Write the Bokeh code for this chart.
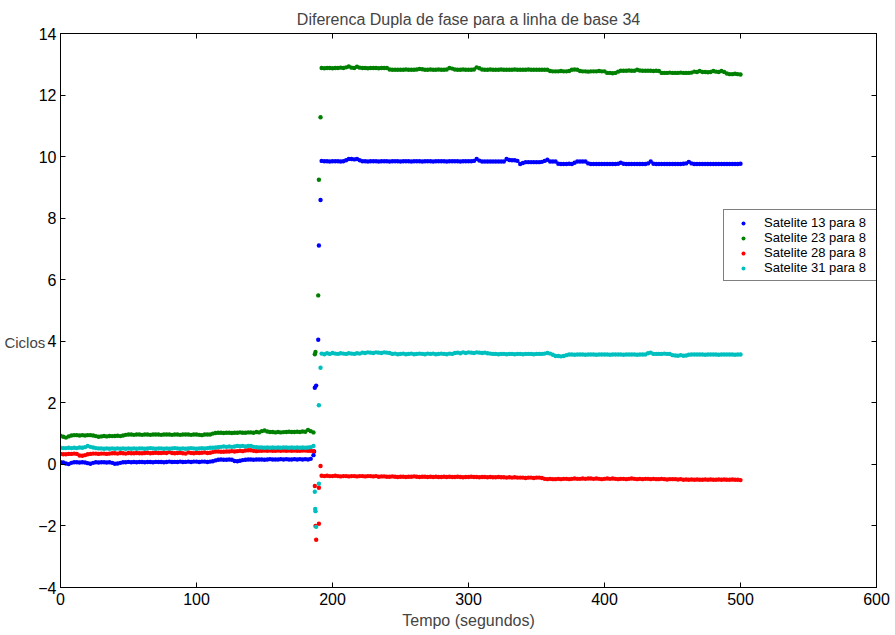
from bokeh.plotting import figure
from bokeh.models import (Range1d, LinearAxis, FixedTicker, Legend, LegendItem,
                          ColumnDataSource)
from bokeh.embed import file_html
from bokeh.resources import INLINE

# ---------------- data ----------------
TITLE = "Diferenca Dupla de fase para a linha de base 34"
X_LABEL = "Tempo (segundos)"
Y_LABEL = "Ciclos"
X_TICKS = [0, 100, 200, 300, 400, 500, 600]
Y_TICKS = [-4, -2, 0, 2, 4, 6, 8, 10, 12, 14]
SERIES_NAMES = ["Satelite 13 para 8", "Satelite 23 para 8",
                "Satelite 28 para 8", "Satelite 31 para 8"]

PRE_T = list(range(0, 187, 2))     # sample times before the jump (s)
POST_T = list(range(192, 501, 2))  # sample times after the jump (s)

BLUE_PRE = [0.07, 0.06, 0.03, 0.01, 0.05, 0.07, 0.07, 0.06, 0.07, 0.06,
            0.04, 0.02, 0.05, 0.07, 0.06, 0.07, 0.07, 0.06, 0.07, 0.05,
            0.02, 0.03, 0.05, 0.07, 0.07, 0.08, 0.07, 0.08, 0.07, 0.08,
            0.08, 0.07, 0.08, 0.08, 0.07, 0.08, 0.08, 0.08, 0.07, 0.08,
            0.09, 0.08, 0.08, 0.08, 0.09, 0.08, 0.08, 0.09, 0.08, 0.09,
            0.09, 0.08, 0.09, 0.09, 0.08, 0.09, 0.10, 0.13, 0.15, 0.16,
            0.15, 0.15, 0.16, 0.15, 0.11, 0.10, 0.12, 0.14, 0.15, 0.16,
            0.16, 0.15, 0.16, 0.16, 0.16, 0.15, 0.16, 0.17, 0.16, 0.16,
            0.16, 0.17, 0.16, 0.17, 0.16, 0.16, 0.17, 0.16, 0.17, 0.16,
            0.17, 0.16, 0.18, 0.30]
GREEN_PRE = [0.93, 0.90, 0.87, 0.91, 0.94, 0.95, 0.95, 0.94, 0.95, 0.94,
             0.95, 0.95, 0.94, 0.92, 0.90, 0.91, 0.92, 0.91, 0.92, 0.92,
             0.92, 0.93, 0.92, 0.94, 0.96, 0.97, 0.97, 0.96, 0.97, 0.97,
             0.96, 0.97, 0.97, 0.96, 0.97, 0.97, 0.97, 0.96, 0.97, 0.97,
             0.97, 0.96, 0.97, 0.97, 0.96, 0.97, 0.97, 0.97, 0.96, 0.97,
             0.97, 0.96, 0.95, 0.97, 0.97, 0.97, 1.00, 1.02, 1.03, 1.03,
             1.02, 1.03, 1.03, 1.02, 1.03, 1.03, 1.04, 1.03, 1.03, 1.04,
             1.04, 1.03, 1.05, 1.04, 1.08, 1.10, 1.07, 1.05, 1.05, 1.04,
             1.05, 1.04, 1.05, 1.05, 1.06, 1.05, 1.05, 1.06, 1.05, 1.07,
             1.06, 1.12, 1.08, 1.04]
RED_PRE = [0.34, 0.33, 0.33, 0.34, 0.34, 0.35, 0.34, 0.29, 0.28, 0.30,
           0.33, 0.34, 0.35, 0.35, 0.34, 0.35, 0.35, 0.34, 0.35, 0.36,
           0.36, 0.35, 0.37, 0.36, 0.35, 0.37, 0.36, 0.36, 0.37, 0.36,
           0.36, 0.37, 0.38, 0.36, 0.37, 0.38, 0.37, 0.37, 0.38, 0.37,
           0.40, 0.37, 0.36, 0.37, 0.38, 0.36, 0.35, 0.39, 0.37, 0.36,
           0.38, 0.37, 0.38, 0.39, 0.37, 0.38, 0.40, 0.42, 0.42, 0.41,
           0.41, 0.42, 0.42, 0.43, 0.42, 0.43, 0.44, 0.43, 0.45, 0.46,
           0.46, 0.44, 0.43, 0.44, 0.44, 0.45, 0.44, 0.45, 0.44, 0.44,
           0.45, 0.44, 0.45, 0.44, 0.45, 0.44, 0.45, 0.44, 0.44, 0.45,
           0.45, 0.44, 0.44, 0.43]
CYAN_PRE = [0.54, 0.53, 0.53, 0.54, 0.53, 0.54, 0.53, 0.55, 0.54, 0.56,
            0.60, 0.57, 0.55, 0.53, 0.52, 0.52, 0.51, 0.52, 0.51, 0.52,
            0.51, 0.52, 0.51, 0.52, 0.51, 0.52, 0.51, 0.52, 0.51, 0.52,
            0.52, 0.51, 0.52, 0.53, 0.52, 0.51, 0.52, 0.52, 0.51, 0.52,
            0.51, 0.52, 0.53, 0.52, 0.51, 0.52, 0.51, 0.52, 0.53, 0.52,
            0.51, 0.52, 0.53, 0.52, 0.53, 0.54, 0.54, 0.55, 0.56, 0.57,
            0.58, 0.57, 0.58, 0.57, 0.58, 0.60, 0.59, 0.60, 0.58, 0.60,
            0.60, 0.57, 0.56, 0.55, 0.55, 0.54, 0.55, 0.54, 0.55, 0.54,
            0.55, 0.54, 0.55, 0.55, 0.54, 0.55, 0.54, 0.55, 0.54, 0.55,
            0.54, 0.55, 0.56, 0.60]

BLUE_JUMP_T = [186.5, 187, 188, 189.5, 190, 191.2]
BLUE_JUMP = [0.42, 2.49, 2.56, 4.05, 7.11, 8.59]
GREEN_JUMP_T = [187, 187.5, 189.5, 190, 191.2]
GREEN_JUMP = [3.58, 3.65, 5.49, 9.25, 11.28]
RED_JUMP_T = [187, 187.5, 188, 190, 190, 191.2]
RED_JUMP = [-0.70, -2.00, -2.45, -0.76, -1.93, -0.05]
CYAN_JUMP_T = [187, 187.3, 187.5, 188, 190, 190, 191.2]
CYAN_JUMP = [-0.89, -1.45, -1.52, -2.03, -0.63, 1.92, 3.14]

BLUE_POST = [9.86, 9.85, 9.85, 9.84, 9.85, 9.85, 9.85, 9.84, 9.85, 9.88,
             9.92, 9.92, 9.91, 9.92, 9.88, 9.85, 9.85, 9.84, 9.85, 9.85,
             9.85, 9.84, 9.85, 9.85, 9.85, 9.84, 9.85, 9.85, 9.85, 9.84,
             9.85, 9.85, 9.85, 9.84, 9.85, 9.85, 9.85, 9.84, 9.85, 9.85,
             9.85, 9.84, 9.85, 9.85, 9.85, 9.85, 9.84, 9.85, 9.85, 9.85,
             9.85, 9.84, 9.85, 9.85, 9.85, 9.85, 9.86, 9.92, 9.87, 9.84,
             9.84, 9.84, 9.84, 9.84, 9.84, 9.84, 9.84, 9.84, 9.92, 9.89,
             9.88, 9.88, 9.86, 9.76, 9.79, 9.82, 9.82, 9.82, 9.82, 9.82,
             9.82, 9.83, 9.86, 9.90, 9.84, 9.84, 9.84, 9.77, 9.76, 9.76,
             9.76, 9.77, 9.76, 9.80, 9.84, 9.84, 9.84, 9.84, 9.78, 9.76,
             9.76, 9.76, 9.76, 9.76, 9.76, 9.76, 9.76, 9.76, 9.76, 9.77,
             9.80, 9.77, 9.76, 9.76, 9.76, 9.76, 9.76, 9.76, 9.76, 9.76,
             9.78, 9.84, 9.77, 9.76, 9.76, 9.76, 9.76, 9.76, 9.76, 9.76,
             9.76, 9.76, 9.76, 9.77, 9.78, 9.83, 9.78, 9.76, 9.76, 9.76,
             9.76, 9.76, 9.76, 9.76, 9.76, 9.76, 9.76, 9.76, 9.76, 9.76,
             9.76, 9.76, 9.76, 9.76, 9.77]
GREEN_POST = [12.88, 12.87, 12.88, 12.88, 12.87, 12.88, 12.88, 12.89, 12.88, 12.90,
              12.93, 12.89, 12.88, 12.92, 12.89, 12.88, 12.88, 12.87, 12.88, 12.88,
              12.88, 12.87, 12.88, 12.88, 12.88, 12.83, 12.82, 12.82, 12.82, 12.82,
              12.82, 12.83, 12.82, 12.82, 12.82, 12.83, 12.85, 12.84, 12.82, 12.82,
              12.83, 12.82, 12.82, 12.83, 12.82, 12.82, 12.83, 12.88, 12.86, 12.83,
              12.82, 12.82, 12.83, 12.82, 12.82, 12.82, 12.83, 12.90, 12.87, 12.83,
              12.82, 12.82, 12.83, 12.82, 12.82, 12.82, 12.83, 12.82, 12.82, 12.82,
              12.82, 12.83, 12.82, 12.82, 12.82, 12.82, 12.83, 12.82, 12.82, 12.82,
              12.82, 12.82, 12.82, 12.82, 12.78, 12.77, 12.77, 12.77, 12.78, 12.77,
              12.77, 12.78, 12.82, 12.83, 12.82, 12.78, 12.77, 12.77, 12.76, 12.77,
              12.77, 12.77, 12.78, 12.77, 12.77, 12.72, 12.72, 12.71, 12.72, 12.76,
              12.79, 12.79, 12.79, 12.80, 12.79, 12.79, 12.82, 12.80, 12.79, 12.79,
              12.79, 12.79, 12.78, 12.79, 12.78, 12.72, 12.72, 12.72, 12.73, 12.72,
              12.72, 12.72, 12.73, 12.72, 12.72, 12.72, 12.73, 12.76, 12.75, 12.78,
              12.75, 12.75, 12.74, 12.75, 12.78, 12.76, 12.75, 12.78, 12.75, 12.70,
              12.68, 12.68, 12.69, 12.68, 12.67]
RED_POST = [-0.37, -0.38, -0.37, -0.38, -0.38, -0.37, -0.38, -0.39, -0.38, -0.38,
            -0.39, -0.38, -0.38, -0.39, -0.38, -0.38, -0.39, -0.38, -0.38, -0.39,
            -0.38, -0.40, -0.39, -0.39, -0.40, -0.40, -0.39, -0.40, -0.41, -0.40,
            -0.40, -0.41, -0.40, -0.40, -0.39, -0.40, -0.41, -0.40, -0.40, -0.41,
            -0.40, -0.41, -0.40, -0.41, -0.41, -0.40, -0.41, -0.40, -0.41, -0.41,
            -0.40, -0.41, -0.42, -0.41, -0.41, -0.40, -0.41, -0.41, -0.42, -0.41,
            -0.41, -0.42, -0.41, -0.42, -0.42, -0.41, -0.42, -0.42, -0.43, -0.42,
            -0.43, -0.42, -0.43, -0.43, -0.43, -0.44, -0.43, -0.43, -0.44, -0.43,
            -0.43, -0.44, -0.47, -0.48, -0.47, -0.48, -0.48, -0.47, -0.48, -0.47,
            -0.47, -0.48, -0.47, -0.46, -0.47, -0.47, -0.46, -0.47, -0.46, -0.46,
            -0.47, -0.46, -0.47, -0.48, -0.47, -0.46, -0.47, -0.46, -0.47, -0.48,
            -0.47, -0.47, -0.48, -0.47, -0.46, -0.47, -0.48, -0.47, -0.48, -0.47,
            -0.47, -0.48, -0.47, -0.48, -0.48, -0.47, -0.48, -0.49, -0.48, -0.48,
            -0.48, -0.49, -0.48, -0.50, -0.49, -0.50, -0.49, -0.50, -0.49, -0.50,
            -0.50, -0.49, -0.50, -0.49, -0.50, -0.50, -0.49, -0.50, -0.49, -0.50,
            -0.50, -0.49, -0.50, -0.50, -0.51]
CYAN_POST = [3.60, 3.58, 3.61, 3.59, 3.62, 3.60, 3.59, 3.61, 3.60, 3.59,
             3.61, 3.60, 3.59, 3.61, 3.60, 3.63, 3.62, 3.64, 3.63, 3.62,
             3.64, 3.63, 3.62, 3.64, 3.63, 3.62, 3.59, 3.60, 3.58, 3.59,
             3.60, 3.58, 3.59, 3.60, 3.58, 3.59, 3.60, 3.59, 3.58, 3.60,
             3.59, 3.60, 3.58, 3.59, 3.60, 3.59, 3.58, 3.60, 3.59, 3.62,
             3.63, 3.61, 3.64, 3.62, 3.64, 3.63, 3.62, 3.64, 3.63, 3.62,
             3.63, 3.61, 3.60, 3.59, 3.59, 3.58, 3.59, 3.59, 3.58, 3.59,
             3.59, 3.58, 3.59, 3.59, 3.58, 3.59, 3.59, 3.59, 3.58, 3.59,
             3.59, 3.59, 3.60, 3.62, 3.60, 3.56, 3.52, 3.52, 3.51, 3.52,
             3.55, 3.57, 3.57, 3.56, 3.57, 3.57, 3.57, 3.56, 3.57, 3.57,
             3.57, 3.56, 3.57, 3.57, 3.57, 3.57, 3.56, 3.57, 3.57, 3.57,
             3.57, 3.56, 3.57, 3.57, 3.57, 3.57, 3.56, 3.57, 3.57, 3.57,
             3.61, 3.63, 3.59, 3.59, 3.59, 3.59, 3.60, 3.59, 3.59, 3.55,
             3.54, 3.53, 3.55, 3.53, 3.54, 3.56, 3.57, 3.57, 3.57, 3.57,
             3.57, 3.56, 3.57, 3.57, 3.57, 3.57, 3.56, 3.57, 3.57, 3.57,
             3.57, 3.57, 3.56, 3.57, 3.57]

COLORS = ["#0000ff", "#008000", "#ff0000", "#00bfbf"]

# ---------------- figure ----------------
FONT = "Liberation Sans"
p = figure(width=890, height=633, output_backend="svg", toolbar_location=None,
           x_range=Range1d(0, 600), y_range=Range1d(-4, 14),
           min_border_left=60, min_border_right=14, min_border_top=33,
           min_border_bottom=46, title=TITLE)
p.title.align = "center"
p.title.text_font = FONT
p.title.text_font_size = "16px"
p.title.text_font_style = "normal"
p.title.standoff = 12
p.title.offset = 0
p.grid.visible = False
p.outline_line_color = "black"
p.outline_line_width = 1
p.background_fill_color = "white"
p.border_fill_color = "white"

for ax in (p.xaxis[0], p.yaxis[0]):
    ax.major_tick_in = 5
    ax.major_tick_out = 0
    ax.minor_tick_line_color = None
    ax.axis_line_color = "black"
    ax.major_tick_line_color = "black"
    ax.major_label_text_font = FONT
    ax.major_label_text_font_size = "16px"
    ax.major_label_text_color = "black"
p.xaxis[0].ticker = FixedTicker(ticks=X_TICKS)
p.yaxis[0].ticker = FixedTicker(ticks=Y_TICKS)
p.xaxis[0].major_label_standoff = 5
p.yaxis[0].major_label_standoff = 4

p.xaxis[0].axis_label = X_LABEL
p.xaxis[0].axis_label_text_font = FONT
p.xaxis[0].axis_label_text_font_size = "16px"
p.xaxis[0].axis_label_text_font_style = "normal"
p.xaxis[0].axis_label_standoff = 4

# the reference places this label a little below the middle of the axis
p.yaxis[0].axis_label = "\n\n\n" + Y_LABEL
p.yaxis[0].axis_label_orientation = "horizontal"
p.yaxis[0].axis_label_text_font = FONT
p.yaxis[0].axis_label_text_font_size = "15px"
p.yaxis[0].axis_label_text_font_style = "normal"
p.yaxis[0].axis_label_text_line_height = 1.25
p.yaxis[0].axis_label_standoff = -10

top = LinearAxis(ticker=FixedTicker(ticks=X_TICKS), major_tick_in=5, major_tick_out=0,
                 minor_tick_line_color=None, major_label_text_color=None,
                 major_label_text_font_size="1px",
                 major_label_standoff=0, axis_line_color="black")
right = LinearAxis(ticker=FixedTicker(ticks=Y_TICKS), major_tick_in=5, major_tick_out=0,
                   minor_tick_line_color=None, major_label_text_color=None,
                   major_label_text_font_size="1px",
                   major_label_standoff=0, axis_line_color="black")
p.add_layout(top, "above")
p.add_layout(right, "right")

series = [
    (BLUE_PRE, BLUE_JUMP_T, BLUE_JUMP, BLUE_POST),
    (GREEN_PRE, GREEN_JUMP_T, GREEN_JUMP, GREEN_POST),
    (RED_PRE, RED_JUMP_T, RED_JUMP, RED_POST),
    (CYAN_PRE, CYAN_JUMP_T, CYAN_JUMP, CYAN_POST),
]
items = []
for (pre, jt, jv, post), color, name in zip(series, COLORS, SERIES_NAMES):
    assert len(pre) == len(PRE_T) and len(post) == len(POST_T)
    src = ColumnDataSource(dict(t=PRE_T + jt + POST_T, v=pre + jv + post))
    r = p.scatter("t", "v", source=src, marker="circle", size=4.4,
                  fill_color=color, line_color=None)
    items.append(LegendItem(label=name, renderers=[r]))

legend = Legend(items=items, location=(663, 306), glyph_width=28, glyph_height=10,
                label_height=15, spacing=0, padding=5, label_standoff=7,
                label_width=111, margin=0, border_line_color="black",
                border_line_width=1, background_fill_color="white",
                background_fill_alpha=1.0, label_text_font=FONT,
                label_text_font_size="13px", label_text_color="black")
p.add_layout(legend, "center")

open("out.html", "w").write(file_html(p, INLINE))
